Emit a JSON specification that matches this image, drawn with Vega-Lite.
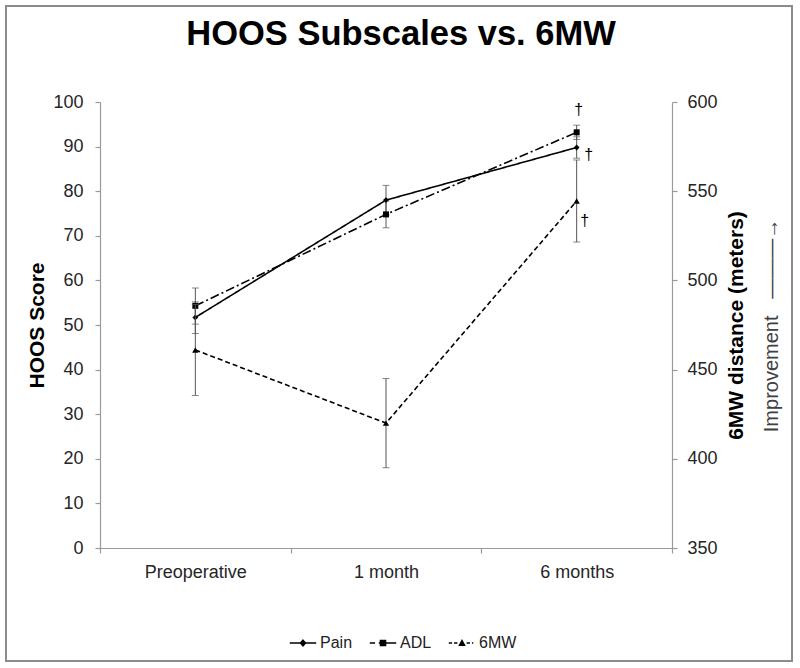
{
  "$schema": "https://vega.github.io/schema/vega-lite/v6.json",
  "width": 572,
  "height": 446,
  "autosize": "none",
  "padding": {"left": 100, "top": 102, "right": 128, "bottom": 120},
  "background": "white",
  "config": {
    "font": "Liberation Sans",
    "view": {"stroke": null},
    "axis": {
      "domainColor": "#9a9a9a",
      "tickColor": "#9a9a9a",
      "domainWidth": 1.2,
      "tickWidth": 1.2,
      "tickSize": 5,
      "labelColor": "#262626",
      "labelFontSize": 18,
      "labelFont": "Liberation Sans",
      "titleFont": "Liberation Sans",
      "titleFontSize": 21,
      "titleFontWeight": "bold",
      "titleColor": "#000000",
      "grid": false
    },
    "legend": {
      "labelFont": "Liberation Sans",
      "padding": 0,
      "strokeWidth": 2
    }
  },
  "title": {
    "text": "HOOS Subscales vs. 6MW",
    "font": "Liberation Sans",
    "fontSize": 34.5,
    "fontWeight": "bold",
    "color": "#000000",
    "anchor": "middle",
    "frame": "group",
    "baseline": "alphabetic",
    "offset": -74,
    "dx": 15
  },
  "data": {
    "values": [
      {"time": "Preoperative", "series": "Pain", "mean": 51.7, "lo": 48.1, "hi": 55.2, "sig": ""},
      {"time": "Preoperative", "series": "ADL", "mean": 54.3, "lo": 50.2, "hi": 58.3, "sig": ""},
      {"time": "Preoperative", "series": "6MW", "mean": 461, "lo": 435.5, "hi": 486.5, "sig": ""},
      {"time": "1 month", "series": "Pain", "mean": 78.0, "lo": 74.7, "hi": 81.3, "sig": ""},
      {"time": "1 month", "series": "ADL", "mean": 74.8, "lo": 71.8, "hi": 77.8, "sig": ""},
      {"time": "1 month", "series": "6MW", "mean": 420, "lo": 395, "hi": 445, "sig": ""},
      {"time": "6 months", "series": "Pain", "mean": 89.8, "lo": 87.4, "hi": 92.2, "sig": "†"},
      {"time": "6 months", "series": "ADL", "mean": 93.2, "lo": 91.6, "hi": 94.8, "sig": "†"},
      {"time": "6 months", "series": "6MW", "mean": 544.5, "lo": 521.5, "hi": 567.5, "sig": "†"}
    ]
  },
  "encoding": {
    "x": {
      "field": "time",
      "type": "nominal",
      "sort": ["Preoperative", "1 month", "6 months"],
      "scale": {"type": "band", "paddingInner": 0, "paddingOuter": 0},
      "axis": {"title": null, "labelAngle": 0, "tickBand": "extent", "labelPadding": 10}
    }
  },
  "layer": [
    {
      "transform": [{"filter": "datum.series !== '6MW'"}],
      "layer": [
        {
          "mark": {"type": "rule", "color": "#555555", "strokeWidth": 1},
          "encoding": {
            "y": {"field": "lo", "type": "quantitative", "title": "HOOS Score", "scale": {"domain": [0, 100], "nice": false, "zero": false}, "axis": {"values": [0,10,20,30,40,50,60,70,80,90,100], "labelPadding": 12, "titlePadding": 5}},
            "y2": {"field": "hi"}
          }
        },
        {
          "mark": {"type": "tick", "color": "#555555", "size": 7, "thickness": 1},
          "encoding": {"y": {"field": "lo", "type": "quantitative", "title": "HOOS Score", "scale": {"domain": [0, 100], "nice": false, "zero": false}}}
        },
        {
          "mark": {"type": "tick", "color": "#555555", "size": 7, "thickness": 1},
          "encoding": {"y": {"field": "hi", "type": "quantitative", "title": "HOOS Score", "scale": {"domain": [0, 100], "nice": false, "zero": false}}}
        },
        {
          "mark": {"type": "line", "color": "#000000", "strokeWidth": 1.6},
          "encoding": {
            "y": {"field": "mean", "type": "quantitative", "title": "HOOS Score", "scale": {"domain": [0, 100], "nice": false, "zero": false}},
            "strokeDash": {"field": "series", "type": "nominal", "scale": {"domain": ["Pain", "ADL"], "range": [[1, 0], [9, 3, 2, 3]]}, "legend": null}
          }
        },
        {
          "transform": [{"filter": "datum.series === 'Pain'"}],
          "mark": {"type": "point", "shape": "diamond", "filled": true, "color": "#000000", "size": 34, "opacity": 1},
          "encoding": {"y": {"field": "mean", "type": "quantitative", "title": "HOOS Score"}}
        },
        {
          "transform": [{"filter": "datum.series === 'ADL'"}],
          "mark": {"type": "point", "shape": "square", "filled": true, "color": "#000000", "size": 36, "opacity": 1},
          "encoding": {"y": {"field": "mean", "type": "quantitative", "title": "HOOS Score"}}
        },
        {
          "transform": [{"filter": "datum.series === 'Pain' && datum.sig !== ''"}],
          "mark": {"type": "text", "fontSize": 16, "color": "#000000", "dx": 12, "dy": 8, "baseline": "middle"},
          "encoding": {"y": {"field": "mean", "type": "quantitative", "title": "HOOS Score"}, "text": {"field": "sig"}}
        },
        {
          "transform": [{"filter": "datum.series === 'ADL' && datum.sig !== ''"}],
          "mark": {"type": "text", "fontSize": 16, "color": "#000000", "dx": 2, "dy": -22, "baseline": "middle"},
          "encoding": {"y": {"field": "mean", "type": "quantitative", "title": "HOOS Score"}, "text": {"field": "sig"}}
        }
      ]
    },
    {
      "transform": [{"filter": "datum.series === '6MW'"}],
      "layer": [
        {
          "mark": {"type": "rule", "color": "#555555", "strokeWidth": 1},
          "encoding": {
            "y": {"field": "lo", "type": "quantitative", "title": "6MW distance (meters)", "scale": {"domain": [350, 600], "nice": false, "zero": false, "padding": 0}, "axis": {"orient": "right", "values": [350,400,450,500,550,600], "labelPadding": 10, "titleAngle": 270, "titlePadding": 29}},
            "y2": {"field": "hi"}
          }
        },
        {
          "mark": {"type": "tick", "color": "#555555", "size": 7, "thickness": 1},
          "encoding": {"y": {"field": "lo", "type": "quantitative", "title": "6MW distance (meters)", "scale": {"domain": [350, 600], "nice": false, "zero": false, "padding": 0}}}
        },
        {
          "mark": {"type": "tick", "color": "#555555", "size": 7, "thickness": 1},
          "encoding": {"y": {"field": "hi", "type": "quantitative", "title": "6MW distance (meters)", "scale": {"domain": [350, 600], "nice": false, "zero": false, "padding": 0}}}
        },
        {
          "mark": {"type": "line", "color": "#000000", "strokeWidth": 1.6, "strokeDash": [5, 3]},
          "encoding": {"y": {"field": "mean", "type": "quantitative", "title": "6MW distance (meters)", "scale": {"domain": [350, 600], "nice": false, "zero": false, "padding": 0}}}
        },
        {
          "mark": {"type": "point", "shape": "triangle-up", "filled": true, "color": "#000000", "size": 40, "opacity": 1},
          "encoding": {"y": {"field": "mean", "type": "quantitative", "title": "6MW distance (meters)"}}
        },
        {
          "transform": [{"filter": "datum.sig !== ''"}],
          "mark": {"type": "text", "fontSize": 16, "color": "#000000", "dx": 8, "dy": 20, "baseline": "middle"},
          "encoding": {"y": {"field": "mean", "type": "quantitative", "title": "6MW distance (meters)"}, "text": {"field": "sig"}}
        }
      ]
    },
    {
      "transform": [{"filter": "datum.series === 'Pain'"}],
      "mark": {"type": "point", "filled": true, "color": "#000000", "stroke": "#000000", "strokeWidth": 1.3, "opacity": 0},
      "encoding": {
        "y": {
          "field": "mean",
          "type": "quantitative",
          "scale": {"domain": [0, 100], "nice": false, "zero": false},
          "axis": {"orient": "right", "title": "Improvement\u00a0\u00a0\u00a0———→", "titleFontWeight": "normal", "titleFontSize": 20, "titleColor": "#404040", "titleAngle": 270, "labels": false, "ticks": false, "domain": false, "titlePadding": 109}
        },
        "shape": {
          "field": "series",
          "type": "nominal",
          "scale": {
            "domain": ["Pain", "ADL", "6MW"],
            "range": [
              "M-1,0H1M0,-0.22L0.2,0L0,0.22L-0.2,0Z",
              "M-1,0H-0.6M-0.32,0H1M-0.2,-0.2H0.2V0.2H-0.2Z",
              "M-1,0H-0.75M-0.6,0H-0.35M-0.2,0.17L0,-0.2L0.2,0.17ZM0.35,0H0.6M0.75,0H0.85"
            ]
          },
          "legend": {
            "title": null,
            "orient": "none",
            "legendX": 189,
            "legendY": 527,
            "direction": "horizontal",
            "symbolSize": 700,
            "symbolStrokeWidth": 1.3,
            "symbolFillColor": "#000000",
            "symbolStrokeColor": "#000000",
            "symbolOpacity": 1,
            "labelFontSize": 16,
            "labelColor": "#222222",
            "columnPadding": 14,
            "labelOffset": 3,
            "padding": 0
          }
        },
        "color": {
          "field": "mean",
          "type": "quantitative",
          "scale": {"range": ["rgba(255,255,255,0)", "rgba(255,255,255,0)"]},
          "legend": {
            "title": null,
            "orient": "none",
            "legendX": -94,
            "legendY": -96,
            "direction": "horizontal",
            "gradientLength": 786,
            "gradientThickness": 654,
            "gradientStrokeWidth": 0,
            "labelExpr": "''",
            "labelFontSize": 1,
            "labelOffset": 0,
            "padding": 0,
            "strokeColor": "#8c8c8c"
          }
        }
      }
    }
  ],
  "resolve": {"scale": {"y": "independent"}}
}
